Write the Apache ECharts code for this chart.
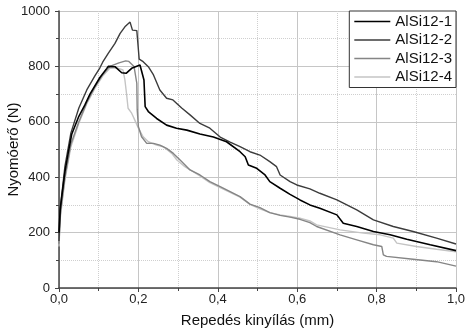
<!DOCTYPE html>
<html>
<head>
<meta charset="utf-8">
<script src="https://cdn.jsdelivr.net/npm/echarts@6/dist/echarts.min.js"></script>
<style>
  html, body { margin: 0; padding: 0; background: #fff; }
  #chart { width: 467px; height: 333px; }
</style>
</head>
<body>
<div id="chart"></div>
<script>
// series names
const names = ['AlSi12-1', 'AlSi12-2', 'AlSi12-3', 'AlSi12-4'];

// AlSi12-1 (black)
const open1 = [0, 0.003, 0.007, 0.015, 0.023, 0.032, 0.05, 0.065, 0.078, 0.103, 0.12, 0.124, 0.141, 0.158, 0.169, 0.183, 0.204, 0.208, 0.214, 0.217, 0.225, 0.246, 0.271, 0.296, 0.322, 0.355, 0.389, 0.422, 0.456, 0.469, 0.477, 0.498, 0.519, 0.531, 0.557, 0.582, 0.607, 0.632, 0.657, 0.7, 0.716, 0.75, 0.792, 0.834, 0.876, 0.935, 1.0];
const force1 = [200, 282, 330, 420, 486, 555, 620, 660, 700, 760, 792, 800, 799, 777, 775, 793, 805, 808, 751, 655, 637, 612, 588, 577, 570, 556, 545, 528, 492, 474, 444, 432, 408, 384, 360, 338, 318, 300, 288, 264, 234, 222, 204, 192, 176, 156, 135];

// AlSi12-2 (dark grey)
const open2 = [0, 0.003, 0.008, 0.015, 0.03, 0.05, 0.07, 0.09, 0.103, 0.11, 0.124, 0.141, 0.154, 0.166, 0.179, 0.185, 0.196, 0.202, 0.212, 0.225, 0.238, 0.254, 0.271, 0.287, 0.309, 0.33, 0.355, 0.38, 0.406, 0.431, 0.456, 0.481, 0.506, 0.531, 0.548, 0.557, 0.582, 0.599, 0.632, 0.657, 0.7, 0.75, 0.792, 0.842, 0.892, 0.951, 1.0];
const force2 = [170, 290, 350, 440, 560, 650, 715, 765, 795, 815, 847, 883, 919, 943, 960, 931, 929, 826, 817, 799, 769, 715, 685, 679, 650, 625, 594, 577, 545, 527, 510, 492, 480, 456, 438, 408, 384, 372, 358, 342, 318, 282, 246, 222, 204, 180, 159];

// AlSi12-3 (mid grey)
const open3 = [0, 0.003, 0.008, 0.015, 0.03, 0.05, 0.07, 0.09, 0.11, 0.128, 0.151, 0.168, 0.176, 0.189, 0.196, 0.197, 0.2, 0.208, 0.221, 0.238, 0.254, 0.271, 0.288, 0.305, 0.33, 0.355, 0.38, 0.406, 0.431, 0.456, 0.481, 0.506, 0.531, 0.557, 0.582, 0.607, 0.632, 0.649, 0.708, 0.75, 0.792, 0.813, 0.817, 0.825, 0.892, 0.951, 1.0];
const force3 = [160, 260, 320, 400, 520, 600, 670, 725, 770, 800, 813, 820, 818, 800, 739, 643, 582, 546, 522, 522, 516, 504, 486, 462, 426, 408, 384, 366, 348, 330, 303, 290, 272, 262, 256, 248, 236, 222, 192, 174, 156, 150, 120, 114, 104, 95, 79];

// AlSi12-4 (light grey)
const open4 = [0, 0.003, 0.008, 0.015, 0.03, 0.05, 0.07, 0.09, 0.11, 0.128, 0.146, 0.161, 0.166, 0.17, 0.174, 0.183, 0.191, 0.2, 0.212, 0.225, 0.246, 0.263, 0.284, 0.297, 0.317, 0.355, 0.38, 0.406, 0.431, 0.456, 0.481, 0.506, 0.531, 0.557, 0.582, 0.607, 0.632, 0.649, 0.708, 0.767, 0.809, 0.842, 0.851, 0.9, 0.951, 1.0];
const force4 = [150, 250, 310, 390, 510, 595, 665, 720, 765, 793, 795, 787, 751, 703, 649, 631, 606, 577, 546, 528, 516, 510, 486, 462, 438, 405, 380, 362, 345, 328, 302, 286, 272, 264, 258, 252, 242, 228, 210, 198, 192, 180, 162, 150, 140, 131];

const colors = ['#000000', '#3c3c3c', '#858585', '#c4c4c4'];
const widths = [1.6, 1.4, 1.4, 1.4];

const zip = (xs, ys) => xs.map((x, i) => [x, ys[i]]);
const opens = [open1, open2, open3, open4];
const forces = [force1, force2, force3, force4];

const chart = echarts.init(document.getElementById('chart'));
const font = 'Liberation Sans, Arial, sans-serif';

chart.setOption({
  animation: false,
  backgroundColor: '#fff',
  grid: { left: 59, right: 11, top: 11, bottom: 45, outerBoundsMode: 'none' },
  legend: {
    data: names.map(n => ({ name: n, icon: 'rect' })),
    orient: 'vertical',
    right: 11,
    top: 11,
    itemWidth: 36,
    itemHeight: 1.6,
    itemGap: 1.5,
    padding: [2, 4, 2, 5],
    backgroundColor: '#fff',
    borderColor: '#333',
    borderWidth: 1,
    borderRadius: 0,
    textStyle: { fontFamily: font, fontSize: 15, color: '#111', lineHeight: 17 }
  },
  xAxis: {
    type: 'value',
    min: 0,
    max: 1,
    interval: 0.2,
    name: 'Repedés kinyílás (mm)',
    nameLocation: 'middle',
    nameGap: 25,
    nameMoveOverlap: false,
    nameTextStyle: { fontFamily: font, fontSize: 15, color: '#111' },
    axisLine: { show: true, onZero: false, lineStyle: { color: '#444', width: 1.5 } },
    axisTick: { show: true, inside: false, length: 4, lineStyle: { color: '#444' } },
    minorTick: { show: true, splitNumber: 2, length: 3, lineStyle: { color: '#444' } },
    axisLabel: {
      fontFamily: font, fontSize: 13, color: '#222', margin: 5,
      formatter: v => v.toFixed(1).replace('.', ',')
    },
    splitLine: { show: true, lineStyle: { color: '#c6c6c6', width: 1 } },
    minorSplitLine: { show: true, lineStyle: { color: '#cfcfcf', width: 1, type: 'dotted' } }
  },
  yAxis: {
    type: 'value',
    min: 0,
    max: 1000,
    interval: 200,
    name: 'Nyomóerő (N)',
    nameLocation: 'middle',
    nameGap: 38,
    nameMoveOverlap: false,
    nameTextStyle: { fontFamily: font, fontSize: 15, color: '#111' },
    axisLine: { show: true, lineStyle: { color: '#444', width: 1.5 } },
    axisTick: { show: true, inside: false, length: 4, lineStyle: { color: '#444' } },
    minorTick: { show: true, splitNumber: 2, length: 3, lineStyle: { color: '#444' } },
    axisLabel: {
      fontFamily: font, fontSize: 13, color: '#222', margin: 9,
      formatter: v => String(v)
    },
    splitLine: { show: true, lineStyle: { color: '#c6c6c6', width: 1 } },
    minorSplitLine: { show: true, lineStyle: { color: '#cfcfcf', width: 1, type: 'dotted' } }
  },
  series: names.map((name, i) => ({
    name: name,
    type: 'line',
    data: zip(opens[i], forces[i]),
    symbol: 'none',
    color: colors[i],
    lineStyle: { color: colors[i], width: widths[i] },
    z: 10 - i
  }))
});
</script>
</body>
</html>
